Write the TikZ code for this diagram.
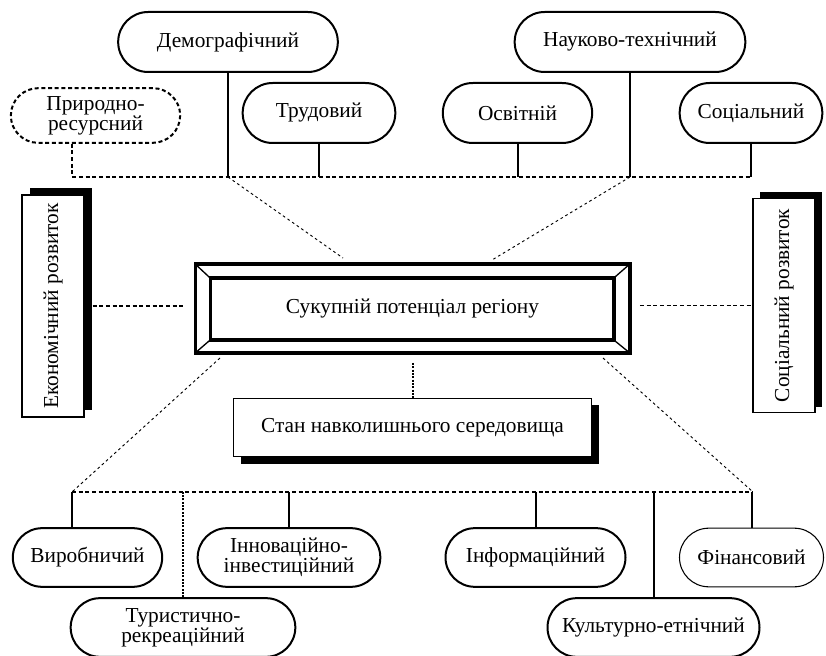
\documentclass[tikz,border=0pt]{standalone}
\usepackage{fontspec}
\setmainfont{Liberation Serif}
\usetikzlibrary{shadows,shapes.misc}
\tikzset{
	pill/.style={draw, rounded rectangle, line width=1.5pt, minimum height=45pt, align=center, inner sep=2pt},
	devbox/.style={draw, fill=white, line width=0.8pt, inner sep=0pt, drop shadow={fill=black, opacity=1, #1}},
	bus/.style={line width=1.3pt, dash pattern=on 3pt off 2pt},
	stem/.style={line width=1.5pt},
	link/.style={line width=0.7pt, dash pattern=on 2pt off 2.2pt},
	dots/.style={line width=1.5pt, dash pattern=on 1.5pt off 1pt}
}
\begin{document}
\begin{tikzpicture}[x=0.75pt, y=-0.75pt, font=\fontsize{16}{15}\selectfont]
	\useasboundingbox (0,0) rectangle (826,656);
	%top row
	\node[pill, minimum width=168.75pt] (demo) at (228,42) {Демографічний};
	\node[pill, minimum width=177pt] (nauk) at (630,42) {Науково-технічний};
	\node[pill, minimum width=131pt, minimum height=41pt, dash pattern=on 3pt off 2pt] (pryrod) at (95.5,115.5) {Природно-\\ресурсний};
	\node[pill, minimum width=118.5pt] (trud) at (319,113) {Трудовий};
	\node[pill, minimum width=116pt] (osvit) at (517.5,113) {Освітній};
	\node[pill, minimum width=111pt] (socl) at (751,113) {Соціальний};
	%centre
	\node[draw, line width=2.5pt, outer sep=0pt, minimum width=326pt, minimum height=66.75pt] (total) at (412.5,308.5) {Сукупній потенціал регіону};
	\draw[line width=2.5pt] ([shift={(15,14)}]total.north west) rectangle ([shift={(-16,-13)}]total.south east);
	\foreach \c/\dx/\dy in {north west/15/14, north east/-16/14, south west/15/-13, south east/-16/-13}
	\draw[line width=1pt] (total.\c) -- ++(\dx,\dy);
	\node[devbox={shadow xshift=6pt, shadow yshift=5.25pt}, minimum width=46.5pt, minimum height=166.5pt] (econ) at (53,306) {\rotatebox{90}{Економічний розвиток}};
	\node[devbox={shadow xshift=5.25pt, shadow yshift=4.5pt}, minimum width=46.5pt, minimum height=161pt] (socdev) at (784,305.5) {\rotatebox{90}{Соціальний розвиток}};
	\node[devbox={shadow xshift=5.6pt, shadow yshift=-5.25pt}, minimum width=269pt, minimum height=44pt] (stan) at (412.5,427.5) {Стан навколишнього середовища};
	%bottom rows
	\node[pill, minimum width=116pt, minimum height=44pt] (vyrob) at (87.5,557.5) {Виробничий};
	\node[pill, minimum width=141pt, minimum height=44pt] (innov) at (289,557.5) {Інноваційно-\\інвестиційний};
	\node[pill, minimum width=139pt, minimum height=44pt] (inform) at (535.5,557.5) {Інформаційний};
	\node[pill, minimum width=112pt, minimum height=44pt, line width=0.8pt] (finans) at (751.5,557.5) {Фінансовий};
	\node[pill, minimum width=172.5pt, minimum height=44pt] (tour) at (183,627.5) {Туристично-\\рекреаційний};
	\node[pill, minimum width=163pt, minimum height=44pt] (kult) at (653.5,627.5) {Культурно-етнічний};
	%upper bus
	\coordinate (tl) at (72,177);
	\coordinate (tr) at (752,177);
	\draw[bus] (pryrod.south -| tl) -- (tl) -- (tr);
	\foreach \n in {demo,trud,osvit,nauk,socl}
	\draw[stem] (\n.south) -- (\n.south |- tl);
	\coordinate (ta) at (343,258);
	\coordinate (tb) at (492,260);
	\draw[link] (demo.south |- tl) -- (ta);
	\draw[link] (nauk.south |- tl) -- (tb);
	%links to the centre
	\draw[bus, shorten <=6pt, shorten >=7.5pt] (econ.east) -- (econ.east -| total.west);
	\draw[bus, shorten <=7.5pt] (total.east |- socdev.west) -- (socdev.west);
	\draw[dots, shorten <=7.5pt] (total.south) -- (stan.north);
	%lower bus
	\coordinate (bl) at (72,492);
	\coordinate (br) at (753,492);
	\coordinate (la) at (220,358);
	\coordinate (ra) at (603,358);
	\draw[link] (la) -- (bl);
	\draw[link] (ra) -- (br);
	\draw[bus] (bl) -- (br);
	\draw[stem] (vyrob.north -| bl) -- (bl);
	\foreach \n in {innov,inform,kult,finans}
	\draw[stem] (\n.north) -- (\n.north |- bl);
	\draw[dots] (tour.north) -- (tour.north |- bl);
\end{tikzpicture}
\end{document}
